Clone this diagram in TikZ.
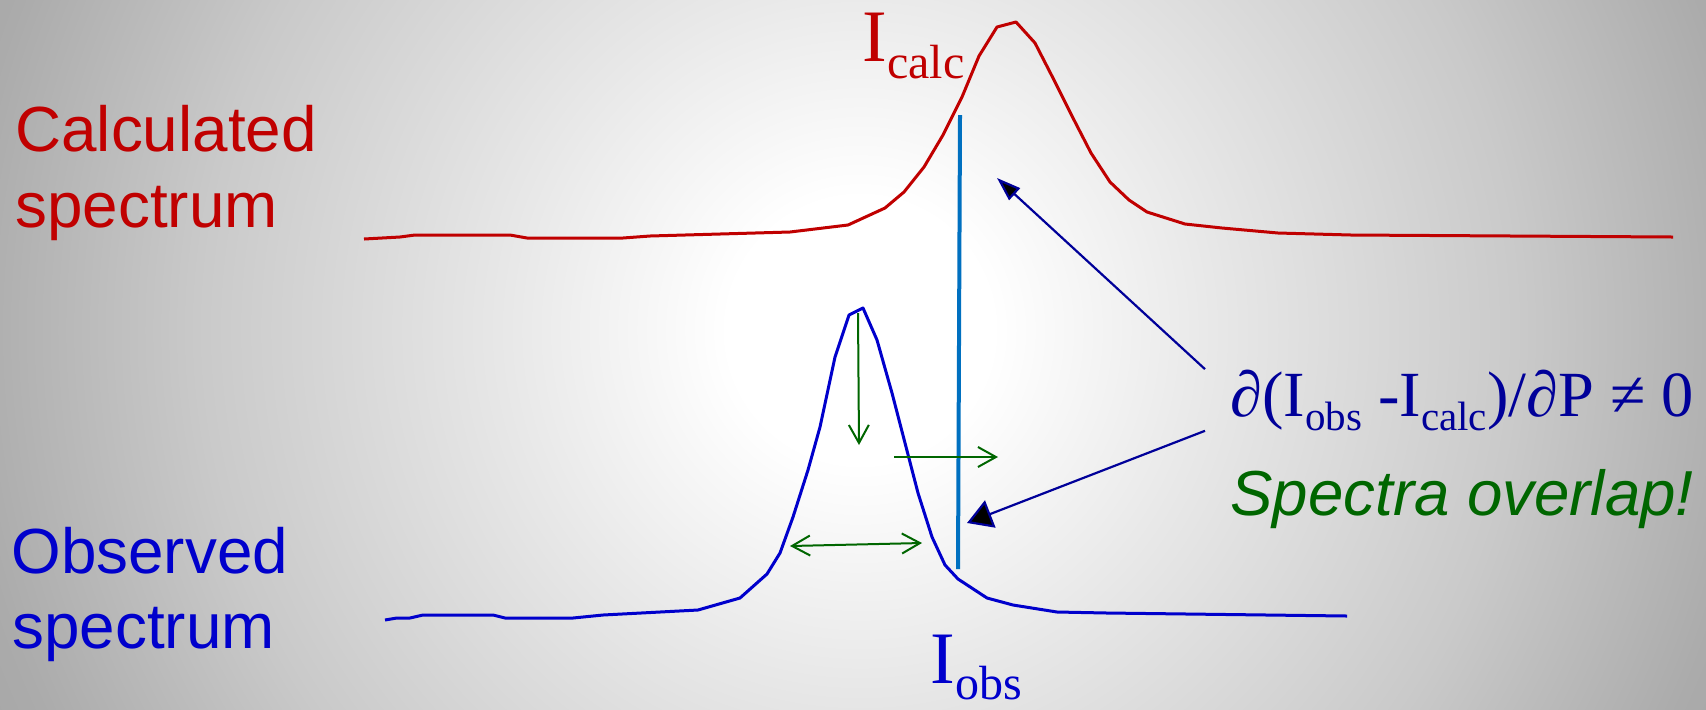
\documentclass[tikz,border=0pt]{standalone}
\usepackage{fontspec}
\setmainfont{Liberation Serif}
\setsansfont{Liberation Sans}
\usetikzlibrary{arrows.meta}
\definecolor{calcred}{HTML}{C00000}
\definecolor{obsblue}{HTML}{0000CC}
\definecolor{derivnavy}{HTML}{000099}
\definecolor{hintgreen}{HTML}{006600}
\definecolor{markblue}{HTML}{0070C0}
\pgfdeclareradialshading{slideglow}{\pgfpoint{0bp}{0bp}}{color(0bp)=(white); color(3bp)=(white); color(8bp)=(white!91!black); color(15bp)=(white!79!black); color(20.5bp)=(white!67!black); color(25bp)=(white!62!black); color(50bp)=(white!62!black)}
\newcommand{\lowsub}[3]{\raisebox{-#2}{\fontsize{#1}{#1}\selectfont #3}}

\begin{document}
\begin{tikzpicture}[x=0.5pt,y=-0.5pt,
    sidelabel/.style={font=\sffamily\fontsize{31.9}{38}\selectfont,inner sep=0pt,anchor=base west},
    peaklabel/.style={font=\fontsize{37}{44}\selectfont,inner sep=0pt,anchor=base west},
    spectrumline/.style={line width=1.5pt,line join=round},
    hintarrow/.style={hintgreen,line width=1pt},
    pointer/.style={derivnavy,line width=1.1pt}]
  \useasboundingbox (0,0) rectangle (1706,709);
  \begin{scope}
    \clip (0,0) rectangle (1706,709);
    \shade[shading=slideglow] (860,330) circle[radius=1100];
  \end{scope}

  % side labels
  \node[sidelabel,calcred] (calcname) at (15,151) {Calculated};
  \node[sidelabel,calcred] (calcname2) at (15,227) {spectrum};
  \node[sidelabel,obsblue] (obsname) at (11,573) {Observed};
  \node[sidelabel,obsblue] (obsname2) at (12,648) {spectrum};

  % the two spectra
  \draw[spectrumline,calcred] plot coordinates {(364,239) (400,237) (415,235) (510,235) (527,238) (623,238) (650,236) (790,232) (848,225) (885,208) (904,192) (924,167) (943,135) (962,97) (979,56) (997,27) (1016,22) (1035,43) (1054,80) (1073,118) (1091,153) (1110,182) (1129,200) (1147,212) (1185,224) (1222,228) (1278,233) (1351,235) (1673,237)};
  \draw[spectrumline,obsblue] plot coordinates {(385,620) (397,618) (410,618) (423,615) (493,615) (505,618) (573,618) (603,615) (698,610) (740,598) (767,574) (780,553) (793,517) (808,470) (820,427) (835,357) (849,315) (863,308) (877,340) (892,393) (905,443) (918,493) (932,537) (945,565) (958,579) (987,598) (1013,605) (1057,612) (1107,613) (1347,616)};
  \draw[markblue,line width=2pt] (960,115) -- (958,569);

  \node[peaklabel,calcred] (icalc) at (862,61) {I\lowsub{24}{8.5pt}{calc}};
  \node[peaklabel,obsblue] (iobs) at (930,683) {I\lowsub{24}{8pt}{obs}};

  % what changes with P
  \coordinate (peaktop) at (858,313);
  \coordinate (peakdown) at (859,445);
  \coordinate (shiftfrom) at (894,457);
  \coordinate (shiftto) at (998,457);
  \coordinate (widthleft) at (790,546);
  \coordinate (widthright) at (922,543);
  \draw[hintarrow,-{Straight Barb[length=9pt,width=10pt]}] (peaktop) -- (peakdown);
  \draw[hintarrow,-{Straight Barb[length=9pt,width=10pt]}] (shiftfrom) -- (shiftto);
  \draw[hintarrow,{Straight Barb[length=9pt,width=10pt]}-{Straight Barb[length=9pt,width=10pt]}] (widthleft) -- (widthright);

  \node[font=\fontsize{32.2}{38}\selectfont,derivnavy,inner xsep=12.5pt,inner ysep=0pt,anchor=base west] (deriv) at (1205,416)
    {∂(I\lowsub{20.5}{7pt}{obs} -I\lowsub{20.5}{7pt}{calc})/∂P ≠ 0};
  \node[font=\sffamily\itshape\fontsize{31.8}{38}\selectfont,hintgreen,inner sep=0pt,anchor=base west] (overlap) at (1230,515) {Spectra overlap!};

  \coordinate (calctip) at (997,178);
  \coordinate (obstip) at (967,523);
  \draw[pointer,-{Triangle[length=12pt,width=8pt,fill=black]}] (deriv.north west) -- (calctip);
  \draw[pointer,-{Triangle[length=12.5pt,width=14.5pt,fill=black]}] (deriv.south west) -- (obstip);
\end{tikzpicture}
\end{document}
